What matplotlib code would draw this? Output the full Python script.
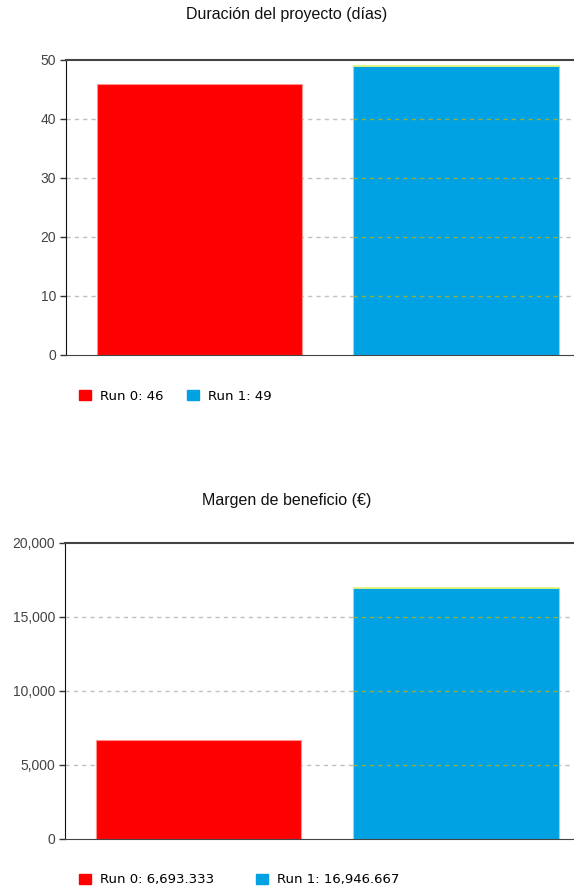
import matplotlib.pyplot as plt
from matplotlib.patches import Patch
from matplotlib.ticker import FuncFormatter

runs = ['Run 0', 'Run 1']
colors = ['#ff0000', '#00a2e4']
edge_colors = ['#ff9090', '#90d6f4']

duracion = [46, 49]
margen = [6693.333, 16946.667]

dur_ticks = [0, 10, 20, 30, 40, 50]
margen_ticks = [0, 5000, 10000, 15000, 20000]


def fmt(v):
    s = f'{v:,.3f}'.rstrip('0').rstrip('.')
    return s


def draw(ax, values, ticks, title, title_y, colspace, leg_y):
    x = range(len(values))
    bars = ax.bar(x, values, width=0.8, color=colors, edgecolor=edge_colors,
                  linewidth=0.8, zorder=2)
    ax.set_xlim(-0.52, 1.46)
    ax.set_ylim(ticks[0], ticks[-1])
    ax.set_yticks(ticks)
    ax.yaxis.set_major_formatter(FuncFormatter(lambda v, p: f'{v:,.0f}'))
    ax.set_xticks([])
    ax.tick_params(axis='y', length=4, width=1, color='#333333',
                   labelcolor='#444444', labelsize=10, pad=3)
    for lab in ax.get_yticklabels():
        lab.set_family('Liberation Sans')
    # dashed grid behind the bars
    for t in ticks[1:-1]:
        ax.axhline(t, color='#c0c0c0', lw=1, ls=(0, (3, 3)), zorder=1)
    # the grid shows through the blue bar in an olive tone
    b = bars[1]
    for t in ticks[1:-1]:
        if t < b.get_height():
            ax.hlines(t, b.get_x(), b.get_x() + b.get_width(), color='#94b040',
                      lw=1, linestyles=(0, (3, 3)), zorder=3)
    ax.hlines(b.get_height(), b.get_x(), b.get_x() + b.get_width(),
              color='#e4f26a', lw=1.2, zorder=3)
    ax.spines['right'].set_visible(False)
    ax.spines['left'].set_color('#111111')
    ax.spines['bottom'].set_color('#444444')
    ax.spines['top'].set_color('#444444')
    ax.spines['top'].set_linewidth(1.5)
    for s in ax.spines.values():
        s.set_zorder(4)

    fig.text(0.5, title_y, title, ha='center', va='center',
             family='Liberation Sans', fontsize=11.5, color='#111111')
    handles = [Patch(facecolor=c, edgecolor=c) for c in colors]
    labels = [f'{r}: {fmt(v)}' for r, v in zip(runs, values)]
    fig.legend(handles, labels, loc='center left', bbox_to_anchor=(0.137, leg_y),
               ncol=2, frameon=False, handlelength=0.9, handleheight=0.7,
               handletextpad=0.7, columnspacing=colspace, borderaxespad=0,
               borderpad=0, prop={'family': 'DejaVu Sans', 'size': 9.5})


fig = plt.figure(figsize=(5.74, 8.91), dpi=100)
ax1 = fig.add_axes([0.115, 0.6016, 0.885, 0.3311])
ax2 = fig.add_axes([0.1132, 0.0584, 0.8868, 0.3322])

draw(ax1, duracion, dur_ticks, 'Duración del proyecto (días)', 1 - 15 / 891, 1.8, 1 - 396 / 891)
draw(ax2, margen, margen_ticks, 'Margen de beneficio (€)', 1 - 500 / 891, 3.2, 1 - 880 / 891)

fig.savefig('out.png', dpi=100)
